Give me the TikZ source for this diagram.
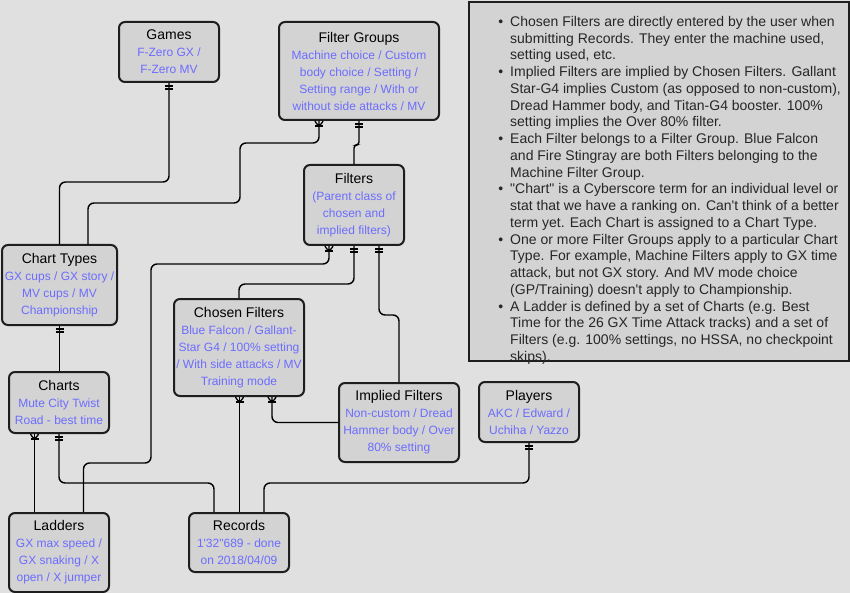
\documentclass[tikz,border=0pt]{standalone}
\usepackage{fontspec}
\setmainfont{Liberation Sans}[Ligatures=TeXOff]
\usepackage{tikz}
\usetikzlibrary{decorations.markings}
\definecolor{pagebg}{RGB}{224,224,224}
\definecolor{boxfill}{RGB}{211,211,211}
\definecolor{boxline}{RGB}{30,30,30}
\definecolor{exblue}{RGB}{108,108,255}
\tikzstyle{entity} = [rectangle, rounded corners=6pt, draw=boxline, line width=2pt, fill=boxfill, align=center, inner sep=0pt, anchor=north west, font=\fontsize{14}{17}\selectfont]
\tikzstyle{notebox} = [rectangle, draw=boxline, line width=2pt, fill=boxfill, anchor=north west, inner sep=0pt]
\tikzstyle{link} = [line width=1.4pt, black, rounded corners=6pt]
\tikzstyle{mk} = [line width=1.3pt, black, line join=round]
\tikzstyle{onestart} = [postaction={decorate, decoration={markings, mark=at position 3pt with {\draw[mk] (0,-4pt) -- (0,4pt);}, mark=at position 6pt with {\draw[mk] (0,-4pt) -- (0,4pt);}}}]
\tikzstyle{manystart} = [postaction={decorate, decoration={markings, mark=at position 7pt with {\draw[mk] (-7pt,-4pt) -- (0,0) -- (-7pt,4pt); \draw[mk] (-2pt,-4pt) -- (-2pt,4pt);}}}]
\newcommand{\ex}[1]{{\fontsize{12}{17}\selectfont\color{exblue}#1}}
\newcommand{\bul}{\leavevmode\llap{\textbullet\hspace{7pt}}}

\begin{document}
\begin{tikzpicture}[x=1pt, y=-1pt]
\fill[pagebg] (0,0) rectangle (850,593);
\useasboundingbox (0,0) rectangle (850,593);
% entities
\node (games) [entity, minimum width=100pt, minimum height=60pt] at (118,21) {Games\\ \ex{F-Zero GX /}\\ \ex{F-Zero MV}};
\node (fgroups) [entity, minimum width=160pt, minimum height=98pt] at (278,21) {Filter Groups\\ \ex{Machine choice / Custom}\\ \ex{body choice / Setting /}\\ \ex{Setting range / With or}\\ \ex{without side attacks / MV}};
\node (filters) [entity, minimum width=100pt, minimum height=80pt] at (303,164) {Filters\\ \ex{(Parent class of}\\ \ex{chosen and}\\ \ex{implied filters)}};
\node (ctypes) [entity, minimum width=115pt, minimum height=80pt] at (1,244) {Chart Types\\ \ex{GX cups / GX story /}\\ \ex{MV cups / MV}\\ \ex{Championship}};
\node (cfilters) [entity, minimum width=130pt, minimum height=97pt] at (173,298) {Chosen Filters\\ \ex{Blue Falcon / Gallant-}\\ \ex{Star G4 / 100\% setting}\\ \ex{/ With side attacks / MV}\\ \ex{Training mode}};
\node (ifilters) [entity, minimum width=120pt, minimum height=79pt] at (338,382) {Implied Filters\\ \ex{Non-custom / Dread}\\ \ex{Hammer body / Over}\\ \ex{80\% setting}};
\node (charts) [entity, minimum width=100pt, minimum height=61pt] at (8,371) {Charts\\ \ex{Mute City Twist}\\ \ex{Road - best time}};
\node (players) [entity, minimum width=100pt, minimum height=60pt] at (478,381) {Players\\ \ex{AKC / Edward /}\\ \ex{Uchiha / Yazzo}};
\node (ladders) [entity, minimum width=100pt, minimum height=79pt] at (8,512) {Ladders\\ \ex{GX max speed /}\\ \ex{GX snaking / X}\\ \ex{open / X jumper}};
\node (records) [entity, minimum width=100pt, minimum height=59pt] at (188,512) {Records\\ \ex{1'32"689 - done}\\ \ex{on 2018/04/09}};
% notes
\node (notes) [notebox, minimum width=380pt, minimum height=359pt] at (468,1) {};
\node (notetext) [anchor=north west, inner sep=0pt, align=left, text=black!85, font=\fontsize{14}{16.75}\selectfont] at (510,16) {\bul Chosen Filters are directly entered by the user when\\
submitting Records. They enter the machine used,\\
setting used, etc.\\
\bul Implied Filters are implied by Chosen Filters. Gallant\\
Star-G4 implies Custom (as opposed to non-custom),\\
Dread Hammer body, and Titan-G4 booster. 100\%\\
setting implies the Over 80\% filter.\\
\bul Each Filter belongs to a Filter Group. Blue Falcon\\
and Fire Stingray are both Filters belonging to the\\
Machine Filter Group.\\
\bul "Chart" is a Cyberscore term for an individual level or\\
stat that we have a ranking on. Can't think of a better\\
term yet. Each Chart is assigned to a Chart Type.\\
\bul One or more Filter Groups apply to a particular Chart\\
Type. For example, Machine Filters apply to GX time\\
attack, but not GX story. And MV mode choice\\
(GP/Training) doesn't apply to Championship.\\
\bul A Ladder is defined by a set of Charts (e.g. Best\\
Time for the 26 GX Time Attack tracks) and a set of\\
Filters (e.g. 100\% settings, no HSSA, no checkpoint\\
skips).};
% connectors
\draw[link, onestart] (games.south) -- ++(0,99) -| (ctypes.north);
\draw[link, manystart] ([xshift=-40pt]fgroups.south) -- ++(0,22) -| ++(-79,60) -| ([xshift=28.5pt]ctypes.north);
\draw[link, onestart, rounded corners=3pt] (fgroups.south) -- ++(0,24) -| (filters.north);
\draw[link, manystart] ([xshift=-25pt]filters.south) -- ++(0,18) -| ++(-178,199) -| ([xshift=24.5pt]ladders.north);
\draw[link, onestart] (filters.south) -- ++(0,38) -| (cfilters.north);
\draw[link, onestart] ([xshift=25pt]filters.south) -- ++(0,69) -| (ifilters.north);
\draw[link, manystart] ([xshift=0.5pt]cfilters.south) -- ([xshift=0.5pt]records.north);
\draw[link, manystart] ([xshift=33pt]cfilters.south) |- (ifilters.west);
\draw[link, onestart] (ctypes.south) -- (ctypes.south |- charts.north);
\draw[link, manystart] ([xshift=-24.5pt]charts.south) -- ([xshift=-24.5pt]ladders.north);
\draw[link, onestart] (charts.south) -- ++(0,49) -| ([xshift=-25pt]records.north);
\draw[link, onestart] (players.south) -- ++(0,40) -| ([xshift=25pt]records.north);
\end{tikzpicture}
\end{document}
